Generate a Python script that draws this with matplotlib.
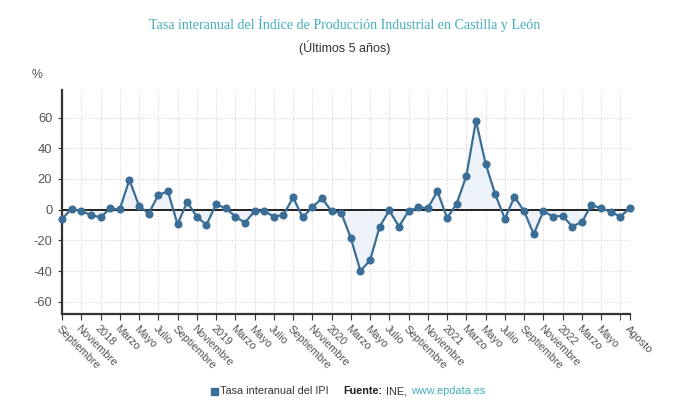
import matplotlib
matplotlib.use("Agg")
import matplotlib.pyplot as plt
import numpy as np

# Monthly year-on-year IPI rate, Sep 2017 - Aug 2022
values = [-6, 0.5, -1, -3.5, -5, 0.8, 0.2, 19.5, 2.5, -2.5, 9.5, 12,
          -9.5, 5, -4.5, -10, 3.5, 1, -4.5, -8.5, -1, -1, -4.5, -3.5,
          8, -5, 1.5, 7.5, -1, -2, -18.5, -40, -33, -11, -0.5, -11,
          -1, 1.5, 1, 12, -5.5, 4, 22, 58, 30, 10, -6, 8.5,
          -1, -16, -1, -4.5, -4, -11, -8, 3, 1, -1.5, -4.5, 1]

tick_pos = list(range(0, 57, 2)) + [59]
tick_labels = ["Septiembre", "Noviembre", "2018", "Marzo", "Mayo", "Julio",
               "Septiembre", "Noviembre", "2019", "Marzo", "Mayo", "Julio",
               "Septiembre", "Noviembre", "2020", "Marzo", "Mayo", "Julio",
               "Septiembre", "Noviembre", "2021", "Marzo", "Mayo", "Julio",
               "Septiembre", "Noviembre", "2022", "Marzo", "Mayo", "Agosto"]
y_ticks = [-60, -40, -20, 0, 20, 40, 60]

line_color = "#3b6e96"
teal = "#45aebb"

plt.rcParams['font.family'] = ['Liberation Sans', 'DejaVu Sans']
plt.rcParams['axes.unicode_minus'] = False

fig = plt.figure(figsize=(6.9, 4.16), dpi=100)
ax = fig.add_axes([62/690, 1 - 314/416, (630 - 62)/690, (314 - 90)/416])

x = np.arange(len(values))
ax.fill_between(x, values, 0, color="#edf2f8", lw=0)
ax.axhline(0, color="#111111", lw=1.3, zorder=2)
ax.plot(x, values, "-o", color=line_color, lw=1.6, ms=4.8,
        clip_on=False, zorder=3)

ax.set_xlim(0, 59)
ax.set_ylim(-68, 78)
ax.set_yticks(y_ticks)
ax.set_xticks(tick_pos)
ax.set_xticks([58], minor=True)
ax.set_xticklabels(tick_labels, rotation=-45, ha="left", va="top",
                   rotation_mode="anchor", fontsize=7.9, color="#555555")
ax.tick_params(axis="x", which="both", length=4, color="#333333", pad=3)
ax.tick_params(axis="y", length=3, color="#333333", labelsize=9.3,
               labelcolor="#555555", pad=4)

ax.grid(True, which="both", ls=(0, (1, 1.5)), color="#d6d3d8", lw=0.8)
ax.set_axisbelow(True)
for spine in ["top", "right"]:
    ax.spines[spine].set_visible(False)
ax.spines["left"].set_color("#333333")
ax.spines["left"].set_linewidth(1.6)
ax.spines["bottom"].set_color("#333333")
ax.spines["bottom"].set_linewidth(1.6)

fig.text(345/690, 1 - 24/416, "Tasa interanual del Índice de Producción Industrial en Castilla y León",
         ha="center", va="center", fontsize=10.1, color=teal,
         family=["Liberation Serif", "DejaVu Serif"])
fig.text(345/690, 1 - 48/416, "(Últimos 5 años)", ha="center", va="center",
         fontsize=9.0, color="#333333")
fig.text(37/690, 1 - 75/416, "%", ha="center", va="center",
         fontsize=8.8, color="#555555")

# legend / source row, chained left to right
ly = 1 - 391/416
fig.patches.append(plt.Rectangle((211/690, ly - 3.5/416), 6.5/690, 7/416,
                                 transform=fig.transFigure, color=line_color))
renderer = fig.canvas.get_renderer()
parts = [("Tasa interanual del IPI", "normal", "#333333", 219.5),
         ("Fuente:", "bold", "#222222", 343.5),
         ("INE,", "normal", "#333333", None),
         ("www.epdata.es", "normal", teal, None)]
xpos = 0
for txt, wt, col, start in parts:
    if start is not None:
        xpos = start
    t = fig.text(xpos/690, ly, txt, ha="left", va="center",
                 fontsize=7.8, color=col, weight=wt)
    xpos = t.get_window_extent(renderer).x1 + 3.5

plt.savefig("out.png", dpi=100)
